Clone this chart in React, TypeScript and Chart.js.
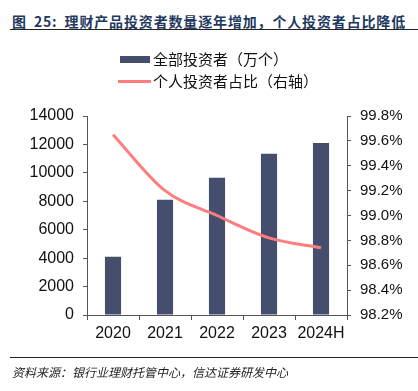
import React, { useEffect, useRef } from "react";
import { Chart, registerables } from "chart.js";

Chart.register(...registerables);

const categories = ["2020", "2021", "2022", "2023", "2024H"];
const investorCounts = [4100, 8100, 9650, 11350, 12100];
const individualShare = [99.65, 99.2, 99.0, 98.82, 98.74];
const leftTicks = { min: 0, max: 14000, step: 2000 };
const rightTicks = { min: 98.2, max: 99.8, step: 0.2 };

const titleText = "图 25: 理财产品投资者数量逐年增加，个人投资者占比降低";
const sourceText = "资料来源：银行业理财托管中心，信达证券研发中心";
const barLabel = "全部投资者（万个）";
const lineLabel = "个人投资者占比（右轴）";

const BAR_COLOR = "#454e6d";
const LINE_COLOR = "#ff7d7f";
const AXIS_COLOR = "#555555";
const NUM_FONT = "'Liberation Sans', Arial, sans-serif";
const CJK_FONT = "'Noto Sans CJK SC', 'Noto Sans', sans-serif";

export default function App() {
  const canvasRef = useRef<HTMLCanvasElement | null>(null);

  useEffect(() => {
    const canvas = canvasRef.current;
    if (!canvas) return;
    const chart = new Chart(canvas, {
      type: "bar",
      data: {
        labels: categories,
        datasets: [
          {
            type: "line",
            label: lineLabel,
            data: individualShare,
            yAxisID: "y1",
            borderColor: LINE_COLOR,
            backgroundColor: LINE_COLOR,
            borderWidth: 3,
            pointRadius: 0,
            cubicInterpolationMode: "monotone",
            order: 0,
          } as any,
          {
            type: "bar",
            label: barLabel,
            data: investorCounts,
            yAxisID: "y",
            backgroundColor: BAR_COLOR,
            barPercentage: 0.31,
            categoryPercentage: 1,
            order: 1,
          },
        ],
      },
      options: {
        responsive: false,
        animation: false,
        devicePixelRatio: 1,
        layout: { padding: { top: 116, left: 0, right: 0, bottom: 0 } },
        plugins: {
          legend: { display: false },
          tooltip: { enabled: false },
          title: { display: false },
        },
        scales: {
          x: {
            offset: true,
            grid: {
              display: true,
              offset: true,
              drawOnChartArea: false,
              drawTicks: true,
              tickLength: 5,
              color: AXIS_COLOR,
            },
            border: { display: true, color: AXIS_COLOR, width: 1 },
            ticks: {
              color: "#111",
              font: { family: NUM_FONT, size: 16 },
              padding: 4,
              maxRotation: 0,
              autoSkip: false,
            },
            afterFit: (s: any) => {
              s.height = 76;
            },
          },
          y: {
            position: "left",
            min: leftTicks.min,
            max: leftTicks.max,
            grid: {
              display: true,
              drawOnChartArea: false,
              drawTicks: true,
              tickLength: 4,
              color: AXIS_COLOR,
            },
            border: { display: true, color: AXIS_COLOR, width: 1 },
            ticks: {
              stepSize: leftTicks.step,
              color: "#111",
              font: { family: NUM_FONT, size: 16 },
              padding: 9,
              callback: (v: any) => String(Math.round(Number(v))),
            },
            afterFit: (s: any) => {
              s.width = 87;
            },
          },
          y1: {
            position: "right",
            min: rightTicks.min,
            max: rightTicks.max,
            grid: {
              display: true,
              drawOnChartArea: false,
              drawTicks: true,
              tickLength: 4,
              color: AXIS_COLOR,
            },
            border: { display: true, color: AXIS_COLOR, width: 1 },
            ticks: {
              stepSize: rightTicks.step,
              color: "#111",
              font: { family: NUM_FONT, size: 15 },
              padding: 9,
              callback: (v: any) => Number(v).toFixed(1) + "%",
            },
            afterFit: (s: any) => {
              s.width = 71;
            },
          },
        },
      },
    });
    return () => chart.destroy();
  }, []);

  return (
    <div
      style={{
        position: "fixed",
        left: 0,
        top: 0,
        width: 418,
        height: 391,
        background: "#fff",
        overflow: "hidden",
      }}
    >
      <div
        style={{
          position: "absolute",
          left: 12,
          top: 13,
          whiteSpace: "pre",
          fontFamily: CJK_FONT,
          fontWeight: 700,
          fontSize: 14,
          lineHeight: "16px",
          letterSpacing: 0.85,
          wordSpacing: 3,
          color: "#1f3a60",
        }}
      >
        {titleText}
      </div>
      <div
        style={{
          position: "absolute",
          left: 10,
          right: 0,
          top: 29,
          height: 1,
          background: "#222",
        }}
      />
      <canvas
        ref={canvasRef}
        width={418}
        height={391}
        style={{ position: "absolute", left: 0, top: 0, width: 418, height: 391 }}
      />
      <div
        style={{
          position: "absolute",
          left: 120,
          top: 48,
          fontFamily: CJK_FONT,
          fontSize: 15,
          color: "#111",
          lineHeight: "22px",
        }}
      >
        <div style={{ display: "flex", alignItems: "center", height: 22 }}>
          <span
            style={{
              display: "inline-block",
              width: 30,
              height: 7,
              background: BAR_COLOR,
              marginRight: 3,
            }}
          />
          <span>{barLabel}</span>
        </div>
        <div style={{ display: "flex", alignItems: "center", height: 22 }}>
          <span
            style={{
              display: "inline-block",
              width: 33,
              height: 3,
              background: LINE_COLOR,
              marginLeft: -2,
              marginRight: 2,
            }}
          />
          <span>{lineLabel}</span>
        </div>
      </div>
      <div
        style={{
          position: "absolute",
          left: 10,
          right: 0,
          top: 357,
          height: 1,
          background: "#222",
        }}
      />
      <div
        style={{
          position: "absolute",
          left: 12,
          top: 364,
          whiteSpace: "pre",
          fontFamily: CJK_FONT,
          fontStyle: "italic",
          fontSize: 12,
          lineHeight: "16px",
          letterSpacing: 0,
          color: "#222",
        }}
      >
        {sourceText}
      </div>
    </div>
  );
}
